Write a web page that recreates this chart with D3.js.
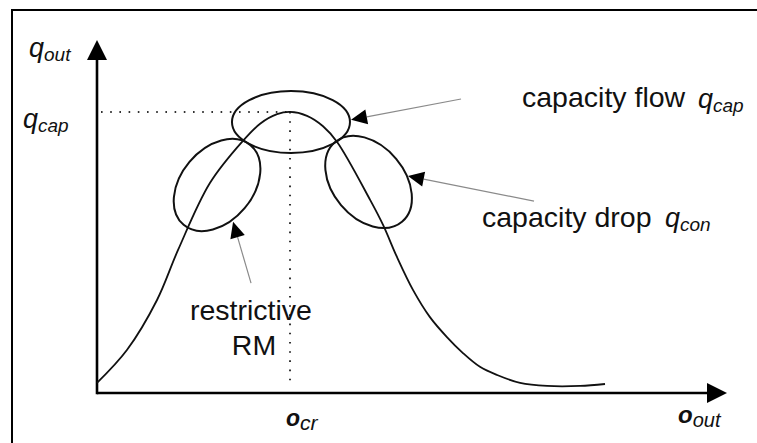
<!DOCTYPE html>
<html>
<head>
<meta charset="utf-8">
<script src="https://cdn.jsdelivr.net/npm/d3@7"></script>
<style>
  html, body { margin: 0; padding: 0; background: #fff; }
  svg { display: block; }
  text { font-family: "Liberation Sans", Arial, sans-serif; fill: #111; }
</style>
</head>
<body>
<svg id="chart" width="757" height="443"></svg>
<script>
// ---- data (o = occupancy relative to o_cr, q = flow relative to q_cap) ----
const curveO = [0, 0.155, 0.311, 0.42, 0.585, 0.756, 0.845, 0.933, 1.0, 1.088, 1.171, 1.244, 1.415, 1.482, 1.554, 1.637, 1.725, 1.813, 1.896, 1.984, 2.073, 2.192, 2.332, 2.503, 2.632];
const curveQ = [0.036, 0.153, 0.331, 0.509, 0.747, 0.897, 0.958, 0.992, 1.0, 0.986, 0.949, 0.893, 0.687, 0.598, 0.484, 0.367, 0.270, 0.199, 0.142, 0.093, 0.064, 0.036, 0.025, 0.025, 0.032];
const criticalO = 1.0;
const capacityQ = 1.0;
const ellipseO = [1.005, 0.622, 1.407];
const ellipseQ = [0.964, 0.740, 0.751];
const arrowFromO = [1.886, 2.264, 0.798];
const arrowFromQ = [1.046, 0.683, 0.391];
const arrowToO = [1.316, 1.611, 0.705];
const arrowToQ = [0.972, 0.772, 0.609];
const annotationLabels = ["capacity flow", "capacity drop", "restrictive", "RM"];
const axisLabels = [{main: "q", sub: "out"}, {main: "q", sub: "cap"}, {main: "o", sub: "cr"}, {main: "o", sub: "out"}];

const svg = d3.select("#chart");
const x = d3.scaleLinear().domain([0, 3.264]).range([97, 727]);
const y = d3.scaleLinear().domain([0, 1.256]).range([393, 40]);

// frame
svg.append("rect").attr("x", 12).attr("y", 10).attr("width", 800).attr("height", 500)
  .attr("fill", "none").attr("stroke", "#000").attr("stroke-width", 2);

// dotted reference lines
svg.append("line").attr("x1", x(0) + 4).attr("x2", x(criticalO)).attr("y1", y(capacityQ)).attr("y2", y(capacityQ))
  .attr("stroke", "#333").attr("stroke-width", 2).attr("stroke-dasharray", "1.6,7.6");
svg.append("line").attr("x1", x(criticalO)).attr("x2", x(criticalO)).attr("y1", y(capacityQ)).attr("y2", y(0) - 8)
  .attr("stroke", "#333").attr("stroke-width", 2).attr("stroke-dasharray", "1.6,7.6");

// axes
const ox = x(0), oy = y(0), tipX = x(3.264), tipY = y(1.256);
svg.append("line").attr("x1", ox).attr("y1", oy).attr("x2", tipX - 18).attr("y2", oy)
  .attr("stroke", "#000").attr("stroke-width", 2.6);
svg.append("line").attr("x1", ox).attr("y1", oy + 1.3).attr("x2", ox).attr("y2", tipY + 18)
  .attr("stroke", "#000").attr("stroke-width", 2.6);
svg.append("path").attr("d", `M${tipX},${oy} L${tipX - 20},${oy - 10} L${tipX - 20},${oy + 10} Z`).attr("fill", "#000");
svg.append("path").attr("d", `M${ox},${tipY} L${ox - 10},${tipY + 20} L${ox + 10},${tipY + 20} Z`).attr("fill", "#000");

// curve
const pts = curveO.map((o, i) => [x(o), y(curveQ[i])]);
svg.append("path").datum(pts)
  .attr("d", d3.line().curve(d3.curveCatmullRom.alpha(0.5)))
  .attr("fill", "none").attr("stroke", "#111").attr("stroke-width", 1.8);

// ellipses
const ellGeom = [{rx: 59, ry: 31, rot: 0}, {rx: 52, ry: 36, rot: -50}, {rx: 52, ry: 36, rot: 50}];
ellipseO.forEach((o, i) => {
  const cx = x(o), cy = y(ellipseQ[i]);
  svg.append("ellipse").attr("cx", 0).attr("cy", 0)
    .attr("rx", ellGeom[i].rx).attr("ry", ellGeom[i].ry)
    .attr("transform", `translate(${cx},${cy}) rotate(${ellGeom[i].rot})`)
    .attr("fill", "none").attr("stroke", "#111").attr("stroke-width", 2);
});

// annotation arrows
arrowFromO.forEach((o, i) => {
  const x1 = x(o), y1 = y(arrowFromQ[i]);
  const x2 = x(arrowToO[i]), y2 = y(arrowToQ[i]);
  const dx = x2 - x1, dy = y2 - y1, len = Math.hypot(dx, dy);
  const ux = dx / len, uy = dy / len;
  const hl = 16, hw = 7.5;
  const bx = x2 - ux * hl, by = y2 - uy * hl;
  svg.append("line").attr("x1", x1).attr("y1", y1).attr("x2", bx).attr("y2", by)
    .attr("stroke", "#8a8a8a").attr("stroke-width", 1.2);
  svg.append("path")
    .attr("d", `M${x2},${y2} L${bx - uy * hw},${by + ux * hw} L${bx + uy * hw},${by - ux * hw} Z`)
    .attr("fill", "#000");
});

// labels helper
function symLabel(px, py, lab, mainSize, subSize, dx, dy, bold) {
  const t = svg.append("text").attr("x", px).attr("y", py);
  t.append("tspan").text(lab.main).attr("font-style", "italic").attr("font-size", mainSize)
    .attr("font-weight", bold ? "bold" : "normal");
  t.append("tspan").text(lab.sub).attr("font-style", "italic").attr("font-size", subSize)
    .attr("dx", dx).attr("dy", dy);
  return t;
}

// axis labels
symLabel(29, 57, axisLabels[0], 27, 19, 0, 4);
symLabel(23, 128, axisLabels[1], 27, 19, 0, 4);
symLabel(x(criticalO) - 4, 426, axisLabels[2], 23, 21, 0, 4, true);
symLabel(678, 423, axisLabels[3], 24, 20, 0, 4, true);

// annotation texts
svg.append("text").attr("x", 522).attr("y", 107).attr("font-size", 28.5).text(annotationLabels[0]);
symLabel(698, 108, axisLabels[1], 27, 19, 0, 4);
svg.append("text").attr("x", 482).attr("y", 227).attr("font-size", 28.5).text(annotationLabels[1]);
symLabel(665, 227, {main: "q", sub: "con"}, 27, 19, 0, 4);
svg.append("text").attr("x", 251).attr("y", 320).attr("font-size", 28.5).attr("text-anchor", "middle").text(annotationLabels[2]);
svg.append("text").attr("x", 254).attr("y", 355).attr("font-size", 28.5).attr("text-anchor", "middle").text(annotationLabels[3]);
</script>
</body>
</html>
